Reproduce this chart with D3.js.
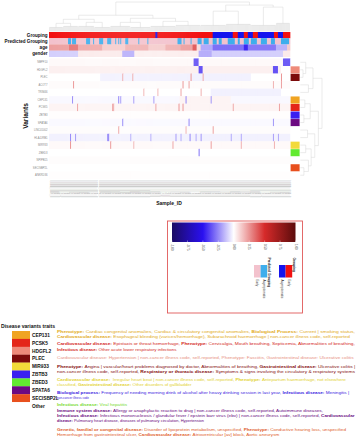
<!DOCTYPE html>
<html>
<head>
<meta charset="utf-8">
<script src="https://cdn.jsdelivr.net/npm/d3@7/dist/d3.min.js"></script>
<style>
  body { margin: 0; background: #fff; }
  svg { display: block; font-family: "Liberation Sans", Arial, sans-serif; }
</style>
</head>
<body>
<svg id="chart" width="363" height="440"></svg>
<script>
// ---- data ----
const nCols = 240;
const annoNames = ["Grouping", "Predicted Grouping", "age", "gender"];
const groupNames = ["Asymptomatic", "Early"];

// Grouping runs [firstCol, lastCol, group]
const groupingRuns = [[0,105,"Early"],[106,107,"Asymptomatic"],[108,162,"Early"],[163,182,"Asymptomatic"],
  [183,187,"Early"],[188,193,"Asymptomatic"],[194,197,"Early"],[198,202,"Asymptomatic"],[203,207,"Early"],
  [208,223,"Asymptomatic"],[224,227,"Early"],[228,232,"Asymptomatic"],[233,239,"Early"]];

// Predicted Grouping: columns predicted Asymptomatic (rest Early)
const predictedAsym = [[19,21],[23,26],[37,40],[44,44],[50,53],[58,61],[66,66],[69,69],[71,71],[76,78],[89,89],
  [98,98],[128,131],[134,134],[141,141],[148,151],[154,158],[163,166],[169,171],[178,184],[188,189],[194,198],
  [201,206],[211,216],[221,224],[231,238]];

// age / gender as scaled values [firstCol, lastCol, value]
const ageRuns = [[0,19,0.22],[20,28,0.32],[29,52,0.2],[53,75,0.12],[76,98,0.18],[99,115,0.12],[116,130,0.18],
  [131,142,0.22],[143,146,0.38],[147,150,0.08],[151,162,-0.18],[163,193,-0.3],[194,197,-0.45],[198,225,-0.28],
  [226,236,-0.16],[237,239,0.12]];
const genderRuns = [[0,28,-0.1],[29,72,0.05],[73,84,-0.17],[85,148,0.04],[149,161,-0.17],[162,232,-0.1],[233,239,0.05]];

const variantNames = ["NBPF10","HDGFL2","PLEC","ACOT7","TRIM46","CEP131","PCSK5","ZBTB3","SPATA6",
  "LINC01002","HLA-DRB1","MIR933","ZBED3","NPIPB15","SECISBP2L","ANKRD36"];
const variantTrait = ["Other","HDGFL2","PLEC","Other","Other","CEP131","PCSK5","ZBTB3","SPATA6",
  "Other","Other","MIR933","ZBED3","Other","SECISBP2L","Other"];

// per variant row: spans [firstCol, lastCol, value], later spans overwrite earlier ones
const variantSpans = [
  [[0,239,0.015],[144,148,-0.34],[233,239,-0.34]],
  [[0,230,0.035],[149,152,-0.36],[223,227,-0.36]],
  [[0,239,0.0],[51,200,-0.03],[73,73,0.2],[83,83,0.2],[141,141,0.25],[153,153,0.2],[231,231,0.25]],
  [[0,239,0.01],[24,24,0.25],[133,133,0.25],[139,139,0.22],[223,223,0.18],[231,231,0.22]],
  [[0,239,0.0],[161,230,-0.03],[94,94,0.18],[108,108,0.18],[131,131,0.22],[151,151,0.18]],
  [[0,239,-0.015],[130,180,0.025],[23,23,-0.25],[69,69,-0.28],[71,71,-0.22],[84,84,-0.22],[104,104,-0.22],[136,136,-0.26],[161,161,-0.22]],
  [[0,239,0.025],[28,28,0.22],[63,63,0.25],[64,64,0.18],[106,106,0.22],[129,129,0.26],[133,133,0.25],[183,183,0.2],[229,229,0.22]],
  [[0,239,0.005]],
  [[0,239,-0.012],[73,73,-0.26],[139,139,-0.26],[223,223,-0.22]],
  [[0,239,0.008],[69,69,0.22],[136,136,0.18],[163,163,0.22]],
  [[0,239,-0.03],[21,21,-0.26],[26,26,-0.22],[58,59,-0.26],[81,81,-0.18],[101,101,-0.18],[126,126,-0.22],[131,131,-0.18],
   [140,140,-0.26],[146,146,-0.18],[151,151,-0.22],[181,181,-0.18],[191,191,-0.18],[223,223,-0.2],[228,228,-0.18]],
  [[0,239,0.015],[21,21,0.26],[61,61,0.26],[84,84,0.18],[123,123,0.22],[161,161,0.22],[191,191,0.18],[224,224,0.18]],
  [[0,239,0.0],[149,149,-0.3]],
  [[0,239,0.008]],
  [[0,239,0.0]],
  [[0,239,0.004]]
];

// column dendrogram: internal {h, c}, leaf span {s, e, h}
const colTree = {h: 29, c: [
  {h: 16, c: [
    {h: 12, c: [{h: 8, c: [{s:0,e:13,h:4},{s:14,e:28,h:5}]}, {h: 9, c: [{s:29,e:44,h:5},{s:45,e:60,h:4}]}]},
    {h: 13, c: [{h: 9, c: [{s:61,e:80,h:5},{s:81,e:100,h:4}]}, {h: 10, c: [{s:101,e:125,h:5},{s:126,e:150,h:6}]}]}
  ]},
  {h: 26, c: [
    {h: 20, c: [{s:151,e:175,h:6},{s:176,e:200,h:7}]},
    {h: 24, c: [{s:201,e:225,h:6},{s:226,e:239,h:8}]}
  ]}
]};

// row dendrogram: internal {h, c}, leaf = row index
const rowTree = {h: 24, c: [
  {h: 14, c: [{h: 6, c: [0, {h: 3, c: [1, 2]}]}, {h: 9, c: [3, 4]}]},
  {h: 20, c: [
    {h: 11, c: [{h: 5, c: [5, 6]}, {h: 4, c: [7, 8]}]},
    {h: 16, c: [{h: 8, c: [9, 10]}, {h: 12, c: [{h: 6, c: [11, 12]}, {h: 9, c: [13, {h: 4, c: [14, 15]}]}]}]}
  ]}
]};

const legendTicks = [-1, -0.75, -0.5, -0.25, 0, 0.25, 0.5, 0.75, 1];

const traitNames = ["CEP131","PCSK5","HDGFL2","PLEC","MIR933","ZBTB3","ZBED3","SPATA6","SECISBP2L","Other"];
const traitColors = ["#F0A422","#E42619","#EE8A7A","#7C0B0B","#F2DA3A","#3A20F0","#62EA30","#6C0A82","#E8501E","#FFFFFF"];
const traitTextColors = ["#E2AA22","#D42A1E","#E89282","#860E0E","#E2D232","#3A22E0","#78DA30","#6A0A80","#E0602A"];

// description lines per trait, segments [text, bold]
const traitText = [
  [[["Phenotype: ",1],["Cardiac congenital anomalies, Cardiac & circulatory congenital anomalies, ",0],["Biological Process: ",1],["Current | smoking status,",0]],
   [["Cardiovascular disease: ",1],["Esophageal bleeding (varices/hemorrhage), Subarachnoid haemorrhage | non-cancer illness code, self-reported",0]]],
  [[["Cardiovascular disease: ",1],["Epistaxis or throat hemorrhage, ",0],["Phenotype: ",1],["Cervicalgia, Mouth breathing, Septicemia, Abnormalities of breathing,",0]],
   [["Infectious disease: ",1],["Other acute lower respiratory infections",0]]],
  [[["Cardiovascular disease: ",0],["Hypertension | non-cancer illness code, self-reported, ",0],["Phenotype: ",0],["Fasciitis, ",0],["Gastrointestinal disease: ",0],["Ulcerative colitis",0]]],
  [[["Phenotype: ",1],["Angina | vascular/heart problems diagnosed by doctor, Abnormalities of breathing, ",0],["Gastrointestinal disease: ",1],["Ulcerative colitis |",0]],
   [["non-cancer illness code, self-reported, ",0],["Respiratory or thoracic disease: ",1],["Symptoms & signs involving the circulatory & respiratory systems",0]]],
  [[["Cardiovascular disease: ",1],[" Irregular heart beat | non-cancer illness code, self-reported, ",0],["Phenotype: ",1],["Antepartum haemorrhage, not elsewhere",0]],
   [["classified, ",0],["Gastrointestinal disease: ",1],["Other disorders of gallbladder",0]]],
  [[["Biological process: ",1],["Frequency of needing morning drink of alcohol after heavy drinking session in last year, ",0],["Infectious disease: ",1],["Meningitis |",0]],
   [["non-cancer illness code",0]]],
  [[["Infectious disease: ",1],["Viral hepatitis",0]]],
  [[["Immune system disease: ",1],["Allergy or anaphylactic reaction to drug | non-cancer illness code, self-reported, Autoimmune diseases,",0]],
   [["Infectious disease: ",1],["Infectious mononucleosis / glandular fever / epstein barr virus (ebv) | non-cancer illness code, self-reported, ",0],["Cardiovascular",1]],
   [["disease: ",1],["Pulmonary heart disease, diseases of pulmonary circulation, Hypertension",0]]],
  [[["Genetic, familial or congenital disease: ",1],["Disorder of lipoprotein metabolism, unspecified, ",0],["Phenotype: ",1],["Conductive hearing loss, unspecified",0]],
   [["Hemorrhage from gastrointestinal ulcer, ",0],["Cardiovascular disease: ",1],["Atrioventricular [av] block, Aortic aneurysm",0]]]
];

// ---- drawing ----
const svg = d3.select("#chart");
const heat = d3.scaleLinear().domain([-1, -0.5, 0, 0.5, 1])
  .range(["#1b0b63", "#2a10f0", "#ffffff", "#d62a2a", "#5c0c0c"]);
const groupColor = d3.scaleOrdinal().domain(groupNames).range(["#1414EE", "#F21010"]);
const predColor = d3.scaleOrdinal().domain(groupNames).range(["#3FAEEC", "#F3C2CD"]);
const traitColor = d3.scaleOrdinal().domain(traitNames).range(traitColors);

const x = d3.scaleLinear().domain([0, nCols]).range([49, 290]);
const cw = x(1) - x(0);
const yAnno = d3.scaleBand().domain(annoNames).range([32, 57]);
const yVar = d3.scaleBand().domain(d3.range(variantNames.length)).range([58.5, 179]);

function fillRuns(runs, def) {
  const arr = new Array(nCols).fill(def);
  runs.forEach(([s, e, v]) => { for (let i = s; i <= e; i++) arr[i] = v; });
  return arr;
}

function drawRow(values, colorFn, y0, h) {
  svg.append("g").selectAll("rect").data(values).join("rect")
    .attr("x", (d, i) => x(i)).attr("y", y0)
    .attr("width", cw + 0.35).attr("height", h)
    .attr("fill", d => colorFn(d));
}

// top annotations
drawRow(fillRuns(groupingRuns, "Early"), groupColor, yAnno("Grouping"), yAnno.bandwidth());
drawRow(fillRuns(predictedAsym.map(([s, e]) => [s, e, "Asymptomatic"]), "Early"), predColor,
  yAnno("Predicted Grouping"), yAnno.bandwidth());
drawRow(fillRuns(ageRuns, 0), heat, yAnno("age"), yAnno.bandwidth());
drawRow(fillRuns(genderRuns, 0), heat, yAnno("gender"), yAnno.bandwidth());

svg.append("g").selectAll("text").data(annoNames).join("text")
  .attr("x", 47.5).attr("y", d => yAnno(d) + yAnno.bandwidth() / 2 + 1.6)
  .attr("text-anchor", "end").attr("font-size", 4.6).attr("font-weight", "bold")
  .attr("fill", "#111").text(d => d);

// variant matrix
variantSpans.forEach((spans, r) => {
  drawRow(fillRuns(spans, 0), heat, yVar(r), yVar.bandwidth() + 0.2);
});

svg.append("g").selectAll("text").data(variantNames).join("text")
  .attr("x", 47.5).attr("y", (d, i) => yVar(i) + yVar.bandwidth() / 2 + 1)
  .attr("text-anchor", "end").attr("font-size", 2.7).attr("fill", "#8a8a8a").text(d => d);

// right trait annotation
svg.append("g").selectAll("rect").data(variantTrait).join("rect")
  .attr("x", 290.6).attr("y", (d, i) => yVar(i) + 0.3)
  .attr("width", 9).attr("height", yVar.bandwidth() - 0.4)
  .attr("fill", d => traitColor(d));

// column dendrogram
const dendro = svg.append("g").attr("fill", "none").attr("stroke", "#d2d2d2").attr("stroke-width", 0.45);
const yTop = d3.scaleLinear().domain([0, 30]).range([31.5, 1]);
function topNode(n) {
  if (n.s !== undefined) {
    d3.range(n.s, n.e + 1).forEach(i => dendro.append("line")
      .attr("x1", x(i) + cw / 2).attr("x2", x(i) + cw / 2)
      .attr("y1", yTop(0)).attr("y2", yTop(n.h)));
    dendro.append("line").attr("x1", x(n.s) + cw / 2).attr("x2", x(n.e) + cw / 2)
      .attr("y1", yTop(n.h)).attr("y2", yTop(n.h));
    return {px: (x(n.s) + x(n.e + 1)) / 2, h: n.h};
  }
  const kids = n.c.map(topNode);
  kids.forEach(k => dendro.append("line").attr("x1", k.px).attr("x2", k.px)
    .attr("y1", yTop(k.h)).attr("y2", yTop(n.h)));
  dendro.append("line").attr("x1", kids[0].px).attr("x2", kids[kids.length - 1].px)
    .attr("y1", yTop(n.h)).attr("y2", yTop(n.h));
  return {px: (kids[0].px + kids[kids.length - 1].px) / 2, h: n.h};
}
topNode(colTree);

// row dendrogram
const xRow = d3.scaleLinear().domain([0, 24]).range([300.3, 322]);
function rowNode(n) {
  if (typeof n === "number") return {py: yVar(n) + yVar.bandwidth() / 2, h: 0};
  const kids = n.c.map(rowNode);
  kids.forEach(k => dendro.append("line").attr("x1", xRow(k.h)).attr("x2", xRow(n.h))
    .attr("y1", k.py).attr("y2", k.py));
  dendro.append("line").attr("x1", xRow(n.h)).attr("x2", xRow(n.h))
    .attr("y1", kids[0].py).attr("y2", kids[kids.length - 1].py);
  return {py: (kids[0].py + kids[kids.length - 1].py) / 2, h: n.h};
}
rowNode(rowTree);

// column labels
const sampleIds = d3.range(nCols).map(i => "UKBB_" + String(1001 + i) + "_S");
svg.append("g").selectAll("text").data(sampleIds).join("text")
  .attr("transform", (d, i) => `translate(${x(i) + cw / 2 + 0.8},180.5) rotate(90)`)
  .attr("font-size", 2.5).attr("fill", "#a0a0a0").text(d => d);

// axis titles
svg.append("text").attr("transform", "translate(27.5,116) rotate(-90)")
  .attr("text-anchor", "middle").attr("font-size", 6.6).attr("font-weight", "bold")
  .attr("fill", "#111").text("Variants");
svg.append("text").attr("x", 169).attr("y", 205).attr("text-anchor", "middle")
  .attr("font-size", 5).attr("font-weight", "bold").attr("fill", "#111").text("Sample_ID");

// legend box
svg.append("rect").attr("x", 167.5).attr("y", 221).attr("width", 135).attr("height", 92)
  .attr("fill", "none").attr("stroke", "#e05a5a").attr("stroke-width", 0.9);

const lx = d3.scaleLinear().domain([-1, 1]).range([172, 295.5]);
const grad = svg.append("defs").append("linearGradient").attr("id", "heatGrad");
d3.range(0, 1.0001, 0.05).forEach(t => grad.append("stop")
  .attr("offset", t).attr("stop-color", heat(-1 + 2 * t)));
svg.append("rect").attr("x", lx(-1)).attr("y", 222.5).attr("width", lx(1) - lx(-1))
  .attr("height", 19.5).attr("fill", "url(#heatGrad)");
const tg = svg.append("g").selectAll("g").data(legendTicks).join("g");
tg.append("line").attr("x1", d => lx(d)).attr("x2", d => lx(d))
  .attr("y1", 240.5).attr("y2", 242).attr("stroke", "#fff").attr("stroke-width", 0.4);
tg.append("text").attr("transform", d => `translate(${lx(d) - 0.9},244) rotate(90)`)
  .attr("font-size", 2.9).attr("fill", "#555").text(d => d.toFixed(2));

// group legends
function groupLegend(x0, title, colors, names) {
  const g = svg.append("g");
  g.selectAll("rect").data(names).join("rect")
    .attr("x", (d, i) => x0 + i * 6.6).attr("y", 265).attr("width", 6.6).attr("height", 12.5)
    .attr("fill", d => colors(d));
  g.selectAll("text").data(names).join("text")
    .attr("transform", (d, i) => `translate(${x0 + i * 6.6 + 2.2},279.5) rotate(90)`)
    .attr("font-size", 3).attr("fill", "#333").text(d => d);
  g.append("text").attr("transform", `translate(${x0 + names.length * 6.6 + 1.2},257.5) rotate(90)`)
    .attr("font-size", 3.2).attr("font-weight", "bold").attr("fill", "#222").text(title);
}
groupLegend(254, "Predicted Grouping", predColor, ["Early", "Asymptomatic"]);
groupLegend(279, "Grouping", groupColor, ["Asymptomatic", "Early"]);

// disease trait legend
svg.append("text").attr("x", 1).attr("y", 328.3).attr("font-size", 5.6).attr("font-weight", "bold")
  .attr("fill", "#111").attr("textLength", 54).attr("lengthAdjust", "spacingAndGlyphs")
  .text("Disease variants traits");
const ySw = d3.scaleBand().domain(traitNames).range([331, 410]);
svg.append("g").selectAll("rect").data(traitNames).join("rect")
  .attr("x", 12).attr("y", d => ySw(d)).attr("width", 18).attr("height", ySw.bandwidth() + 0.2)
  .attr("fill", d => traitColor(d));
svg.append("g").selectAll("text").data(traitNames).join("text")
  .attr("x", 32).attr("y", d => ySw(d) + ySw.bandwidth() / 2 + 1.8)
  .attr("font-size", 4.8).attr("font-weight", "bold").attr("fill", "#111").text(d => d);

// trait descriptions: baseline y and right end of each line
const textY = [[333, 338], [345, 350.5], [359], [367.5, 372.5], [380.5, 385.5], [394, 399], [406], [412, 416.8, 421.6], [431, 436]];
const textEnd = [[355, 350], [355, 177], [354], [355, 355], [346, 192], [350, 89], [127], [323, 355, 204], [346, 279]];
traitText.forEach((lines, k) => {
  lines.forEach((segs, j) => {
    const t = svg.append("text").attr("x", 0).attr("y", 0)
      .attr("font-size", 4.35).attr("fill", traitTextColors[k]).attr("xml:space", "preserve");
    segs.forEach(([s, b]) => t.append("tspan").attr("font-weight", b ? "bold" : "normal").text(s));
    const natural = t.node().getComputedTextLength();
    const sx = (textEnd[k][j] - 57) / natural;
    t.attr("transform", `translate(57,${textY[k][j]}) scale(${sx},1)`);
  });
});
</script>
</body>
</html>
